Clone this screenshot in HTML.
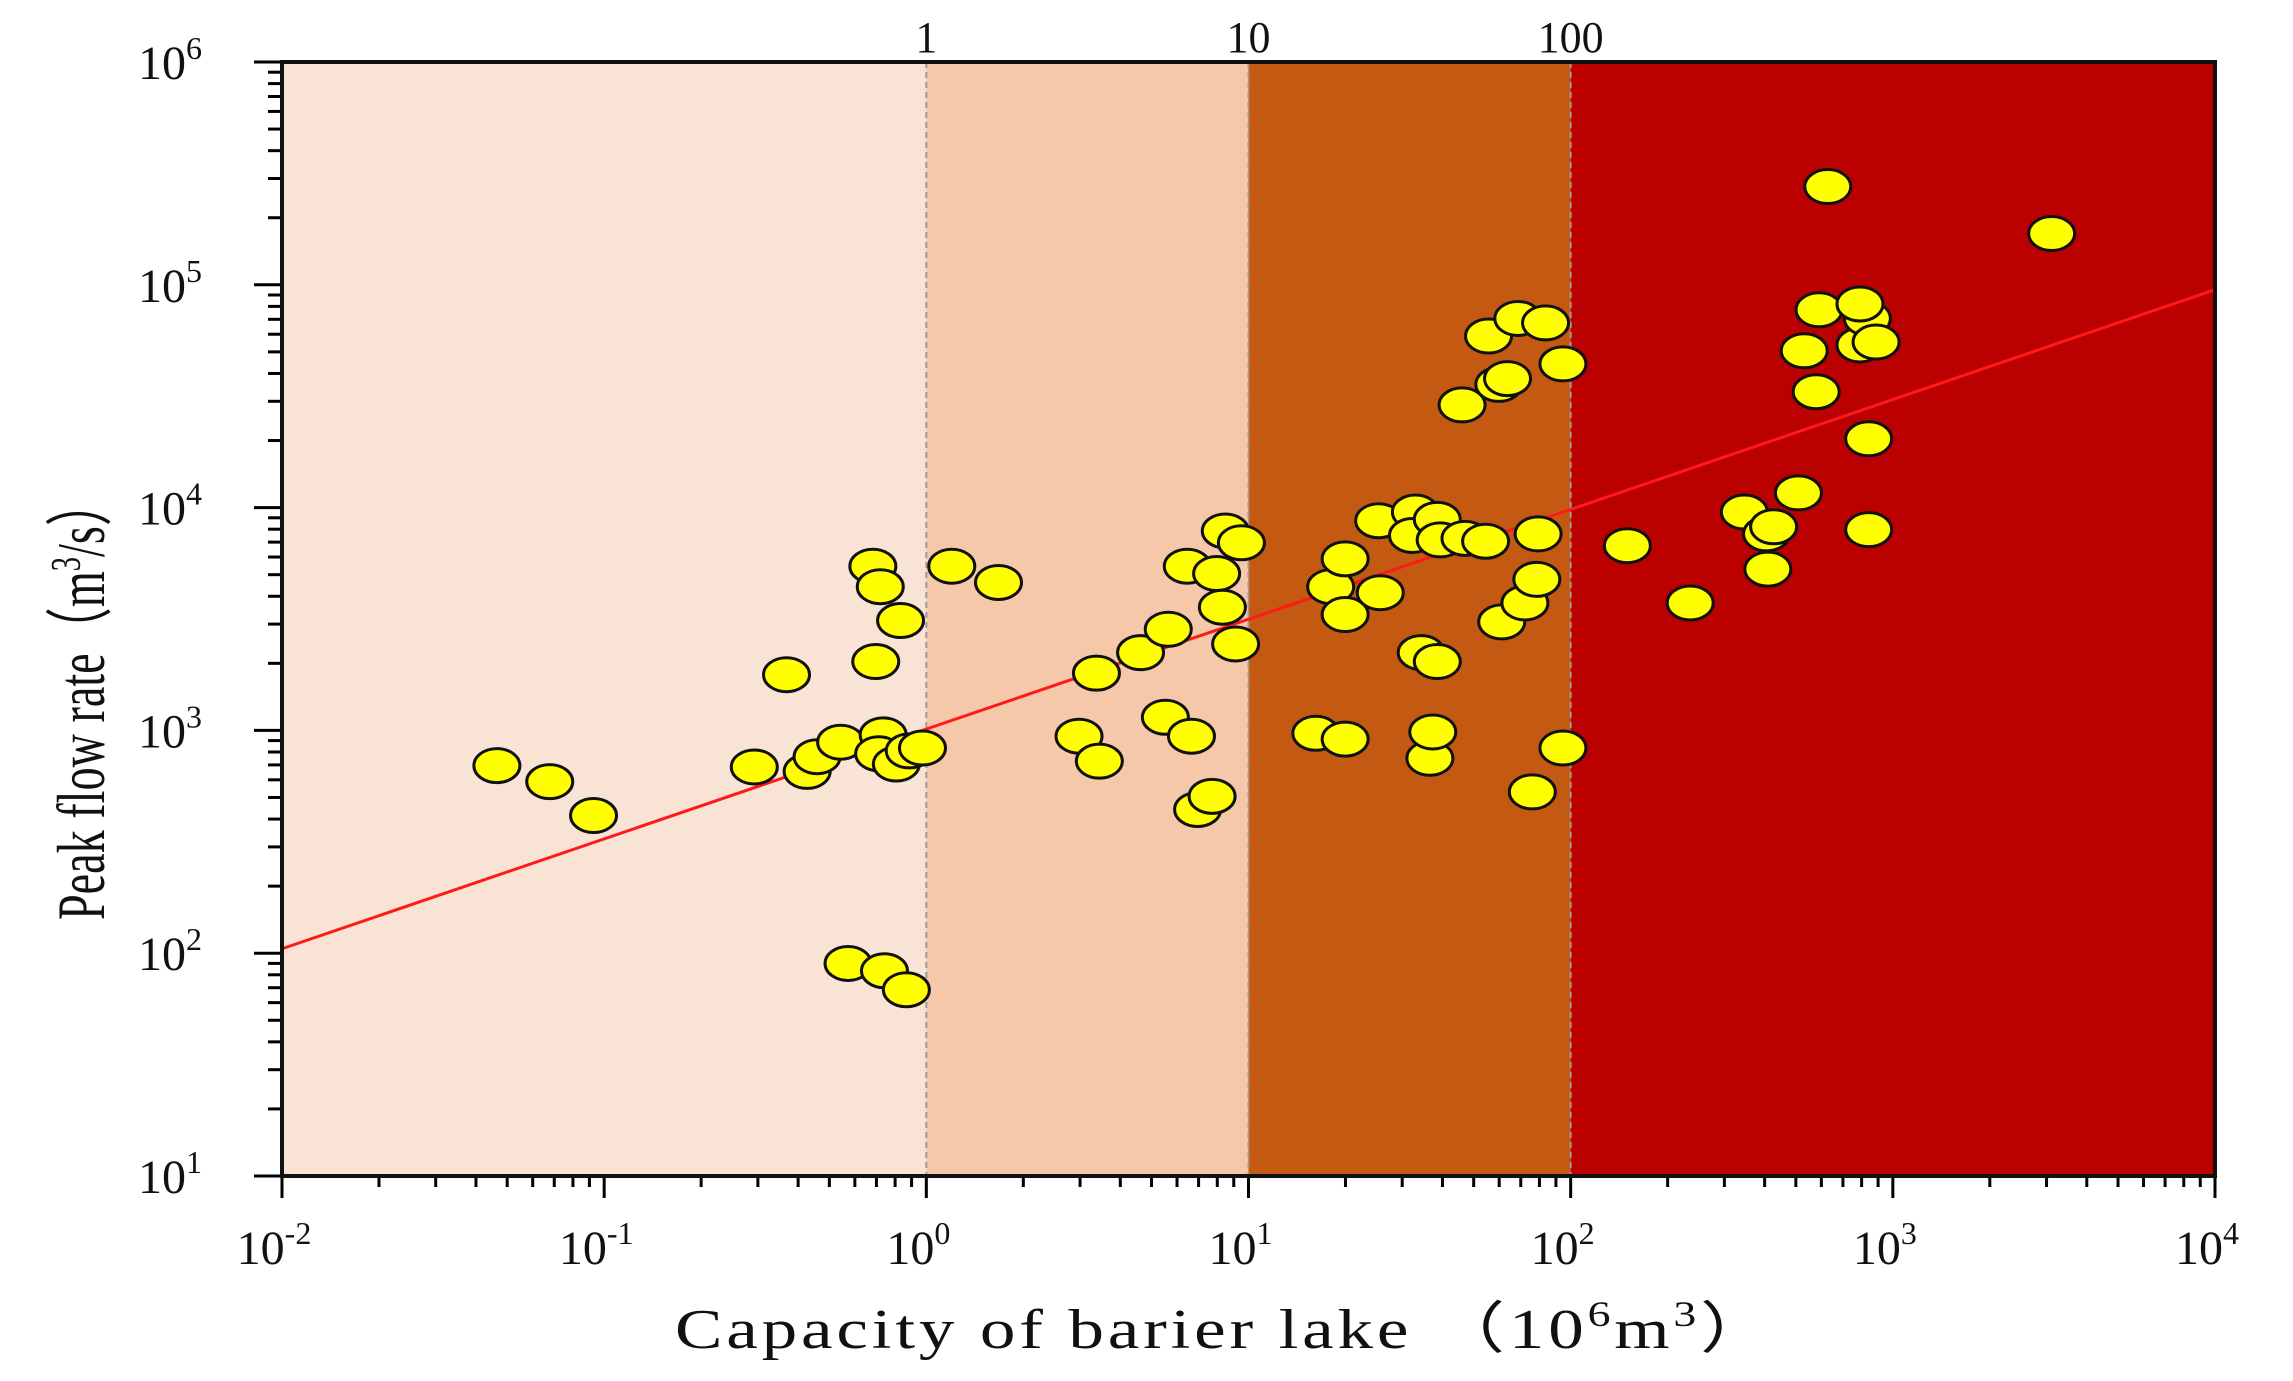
<!DOCTYPE html>
<html><head><meta charset="utf-8"><style>
html,body{margin:0;padding:0;background:#fff;}
svg{display:block;}
text{font-family:"Liberation Serif",serif;fill:#111;}
</style></head><body>
<svg id="chart" width="2293" height="1381" viewBox="0 0 2293 1381" xmlns="http://www.w3.org/2000/svg"></svg>
<script>
// data (log10 values)
const capacityLog = [-1.333,-1.169,-1.033,-0.534,-0.370,-0.339,-0.266,-0.434,-0.166,-0.143,-0.157,-0.080,-0.134,-0.148,-0.093,-0.053,-0.012,-0.243,-0.130,-0.062,0.079,0.224,0.474,0.537,0.528,0.665,0.751,0.742,0.823,0.810,0.901,0.928,0.978,0.919,0.960,0.842,0.887,1.209,1.300,1.255,1.300,1.300,1.409,1.404,1.518,1.509,1.586,1.595,1.536,1.586,1.563,1.572,1.672,1.736,1.786,1.858,1.895,1.899,1.881,1.976,1.663,1.777,1.804,1.745,1.836,1.922,1.976,2.176,2.371,2.539,2.608,2.630,2.612,2.707,2.725,2.762,2.771,2.798,2.898,2.921,2.898,2.948,2.925,2.925,3.493];
const flowLog = [2.842,2.770,2.618,2.836,2.816,2.882,2.947,3.250,3.737,3.645,3.309,3.493,2.980,2.895,2.849,2.908,2.921,1.954,1.921,1.836,3.737,3.664,2.974,2.862,3.257,3.349,3.454,3.059,2.974,3.737,3.704,3.895,3.842,3.553,3.388,2.645,2.704,2.987,2.961,3.645,3.770,3.520,3.618,3.941,3.980,3.875,3.947,3.855,3.349,3.309,2.875,2.993,3.862,3.849,3.487,3.572,3.678,3.882,2.724,2.921,4.461,4.553,4.579,4.770,4.849,4.829,4.645,3.829,3.572,3.980,3.882,3.914,3.724,4.066,4.704,4.520,4.888,5.441,4.730,4.849,4.914,4.743,4.309,3.901,5.230];
const fitIntercept = 2.02; // log y at x=10^-2
const fitSlope = 0.493;
const xDecades = [-2,-1,0,1,2,3,4];
const yDecades = [1,2,3,4,5,6];
const zoneBounds = [-2,0,1,2,4];
const zoneColors = ['#f9e3d5','#f5c8aa','#c45a12','#bb0000'];
const topLabels = ['1','10','100'];
const topLabelLog = [0,1,2];

const NS='http://www.w3.org/2000/svg';
const svg=document.getElementById('chart');
const L=282,R=2215,T=62,B=1176;
const sx=v=>L+(v-(-2))/6*(R-L);
const sy=v=>B-(v-1)/5*(B-T);
function el(t,a,p){const e=document.createElementNS(NS,t);for(const k in a)e.setAttribute(k,a[k]);(p||svg).appendChild(e);return e;}

for(let i=0;i<zoneColors.length;i++){
  const r=el('rect',{x:sx(zoneBounds[i]),y:T,width:sx(zoneBounds[i+1])-sx(zoneBounds[i]),height:B-T,fill:zoneColors[i]});
  
  
}
for(let i=0;i<topLabels.length;i++){
  const x=sx(topLabelLog[i]);
  const ln=el('line',{x1:x,y1:T,x2:x,y2:B,stroke:'#9a9a9a','stroke-width':2,'stroke-dasharray':'6,4'});
  
  
  const t=el('text',{x:x,y:52,'font-size':44,'text-anchor':'middle'});
  t.textContent=topLabels[i];
  
  
}
// fit line
const fl=el('line',{x1:sx(-2),y1:sy(fitIntercept),x2:sx(4),y2:sy(fitIntercept+fitSlope*6),stroke:'#ff1a1a','stroke-width':3});


// points
for(let i=0;i<capacityLog.length;i++){
  const c=el('ellipse',{cx:sx(capacityLog[i]),cy:sy(flowLog[i]),rx:23,ry:17,fill:'#ffff00',stroke:'#111','stroke-width':3});
  
  
}
// ticks
const tg=el('g',{stroke:'#000','stroke-width':3});


for(const d of xDecades){
  el('line',{x1:sx(d),y1:B,x2:sx(d),y2:B+22},tg);
  if(d<4)for(let m=2;m<10;m++){const x=sx(d+Math.log10(m));el('line',{x1:x,y1:B,x2:x,y2:B+11},tg);}
  const t=el('text',{x:sx(d)-8,y:1264,'font-size':48,'text-anchor':'middle'});
  t.innerHTML='10<tspan dy="-20" font-size="32">'+d+'</tspan>';
  
  
}
for(const d of yDecades){
  el('line',{x1:L-28,y1:sy(d),x2:L,y2:sy(d)},tg);
  if(d<6)for(let m=2;m<10;m++){const y=sy(d+Math.log10(m));el('line',{x1:L-14,y1:y,x2:L,y2:y},tg);}
  const t=el('text',{x:202,y:sy(d)+17,'font-size':48,'text-anchor':'end'});
  t.innerHTML='10<tspan dy="-20" font-size="32">'+d+'</tspan>';
  
  
}
const fr=el('rect',{x:L,y:T,width:R-L,height:B-T,fill:'none',stroke:'#111','stroke-width':4});


// axis titles
const xt=el('text',{x:1225,y:1348,'font-size':56,'text-anchor':'middle','letter-spacing':'3',textLength:1100,lengthAdjust:'spacingAndGlyphs'});
xt.innerHTML='Capacity of  barier lake （10<tspan dy="-22" font-size="36">6</tspan><tspan dy="22">m</tspan><tspan dy="-22" font-size="36">3</tspan><tspan dy="22">）</tspan>';


const yt=el('text',{x:0,y:0,'font-size':68,'text-anchor':'middle',textLength:440,lengthAdjust:'spacingAndGlyphs',transform:'translate(104,700) rotate(-90)'});
yt.innerHTML='Peak flow rate（m<tspan dy="-24" font-size="42">3</tspan><tspan dy="24">/s）</tspan>';


</script>
</body></html>
